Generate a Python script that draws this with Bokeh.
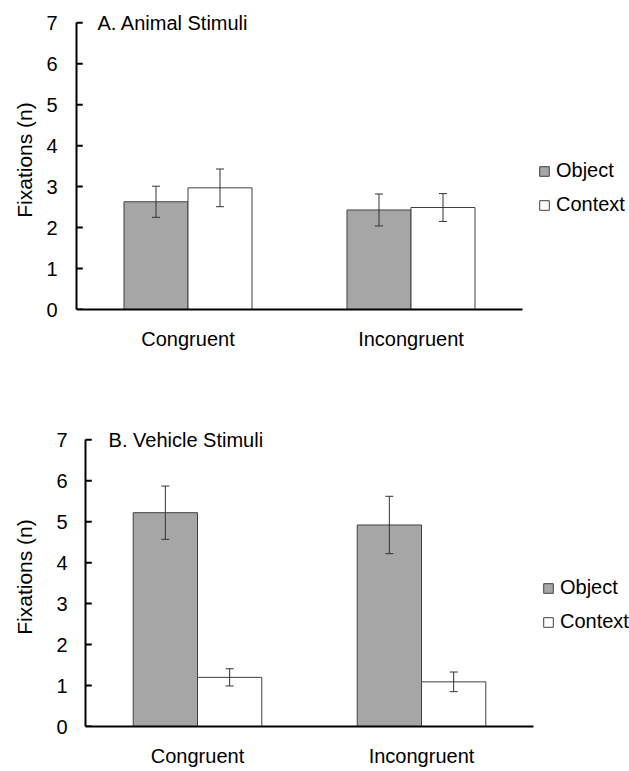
from bokeh.plotting import figure
from bokeh.models import (FactorRange, Range1d, FixedTicker, Whisker, TeeHead, Label,
                          Legend, LegendItem, ColumnDataSource, Spacer)
from bokeh.transform import dodge
from bokeh.layouts import column, row
from bokeh.embed import file_html
from bokeh.resources import INLINE

# ---- data ----
categories = ["Congruent", "Incongruent"]
series = ["Object", "Context"]
y_ticks = [0, 1, 2, 3, 4, 5, 6, 7]

animal_object = [2.63, 2.43]
animal_object_err = [0.38, 0.39]
animal_context = [2.97, 2.49]
animal_context_err = [0.46, 0.34]

vehicle_object = [5.22, 4.92]
vehicle_object_err = [0.65, 0.70]
vehicle_context = [1.20, 1.09]
vehicle_context_err = [0.21, 0.24]

# ---- style ----
FONT = "Liberation Sans"
GRAY = "#a6a6a6"
EDGE = "#404040"
ERR = "#333333"
BAR_W = 0.287
TICK_LEN = 0.028   # inward tick length, in category units


def panel(title, obj, obj_err, ctx, ctx_err, left, fw, fh, top, bottom,
          ylab_standoff, ytick_standoff, title_x, legend_x):
    src = ColumnDataSource(dict(
        cat=categories,
        obj=obj, obj_lo=[v - e for v, e in zip(obj, obj_err)], obj_hi=[v + e for v, e in zip(obj, obj_err)],
        ctx=ctx, ctx_lo=[v - e for v, e in zip(ctx, ctx_err)], ctx_hi=[v + e for v, e in zip(ctx, ctx_err)],
    ))
    p = figure(x_range=FactorRange(factors=categories), y_range=Range1d(0, 7.3),
               frame_width=fw, frame_height=fh, output_backend="svg", toolbar_location=None,
               min_border_left=left, min_border_top=top, min_border_bottom=bottom, min_border_right=0)
    p.background_fill_color = "white"
    p.border_fill_color = "white"
    p.outline_line_color = None
    p.grid.visible = False

    r1 = p.vbar(x=dodge("cat", -BAR_W / 2, range=p.x_range), top="obj", width=BAR_W, source=src,
                fill_color=GRAY, line_color=EDGE, line_width=1)
    r2 = p.vbar(x=dodge("cat", BAR_W / 2, range=p.x_range), top="ctx", width=BAR_W, source=src,
                fill_color="white", line_color=EDGE, line_width=1)

    for off, lo, hi in ((-BAR_W / 2, "obj_lo", "obj_hi"), (BAR_W / 2, "ctx_lo", "ctx_hi")):
        w = Whisker(source=src, base=dodge("cat", off, range=p.x_range), lower=lo, upper=hi,
                    line_color=ERR, line_width=1, level="overlay",
                    upper_head=TeeHead(size=8, line_color=ERR, line_width=1),
                    lower_head=TeeHead(size=8, line_color=ERR, line_width=1))
        p.add_layout(w)

    # inward tick marks on the value axis
    tick_src = ColumnDataSource(dict(y=y_ticks, x0=[0] * len(y_ticks), x1=[TICK_LEN] * len(y_ticks)))
    p.segment(x0="x0", x1="x1", y0="y", y1="y", source=tick_src,
              line_color="black", line_width=2)

    p.yaxis.ticker = FixedTicker(ticks=y_ticks)
    p.yaxis.bounds = (0, 7)
    p.yaxis.major_tick_in = 0
    p.yaxis.major_tick_out = 0
    p.yaxis.minor_tick_line_color = None
    p.yaxis.axis_line_width = 2
    p.yaxis.major_label_standoff = ytick_standoff
    p.yaxis.major_label_text_font = FONT
    p.yaxis.major_label_text_font_size = "20px"
    p.yaxis.major_label_text_color = "black"
    p.yaxis.axis_label = "Fixations (n)"
    p.yaxis.axis_label_text_font = FONT
    p.yaxis.axis_label_text_font_size = "21px"
    p.yaxis.axis_label_text_font_style = "normal"
    p.yaxis.axis_label_text_color = "black"
    p.yaxis.axis_label_standoff = ylab_standoff

    p.xaxis.major_tick_line_color = None
    p.xaxis.minor_tick_line_color = None
    p.xaxis.axis_line_width = 2
    p.xaxis.major_label_standoff = 12
    p.xaxis.major_label_text_font = FONT
    p.xaxis.major_label_text_font_size = "20px"
    p.xaxis.major_label_text_color = "black"

    p.add_layout(Label(x=title_x, y=7, text=title, text_font=FONT, text_font_size="20px",
                       text_baseline="middle", text_align="left", text_color="black"))

    legend = Legend(items=[LegendItem(label=series[0], renderers=[r1]),
                           LegendItem(label=series[1], renderers=[r2])],
                    location=(legend_x, 93), orientation="vertical",
                    glyph_width=12, glyph_height=12, label_height=22, spacing=11,
                    label_standoff=6, padding=0, margin=0,
                    label_text_font=FONT, label_text_font_size="20px", label_text_color="black",
                    border_line_color=None, background_fill_alpha=0)
    p.add_layout(legend, "right")
    return p


pa = panel("A.  Animal Stimuli", animal_object, animal_object_err, animal_context, animal_context_err,
           left=76, fw=446, fh=299, top=10, bottom=80, ylab_standoff=7, ytick_standoff=19,
           title_x=0.094, legend_x=16)
pb = panel("B. Vehicle Stimuli", vehicle_object, vehicle_object_err, vehicle_context, vehicle_context_err,
           left=76, fw=448, fh=299, top=38, bottom=38, ylab_standoff=17, ytick_standoff=18,
           title_x=0.103, legend_x=9)

layout = column(row(pa), row(Spacer(width=9, height=10), pb), spacing=0)
open("out.html", "w").write(file_html(layout, INLINE))
